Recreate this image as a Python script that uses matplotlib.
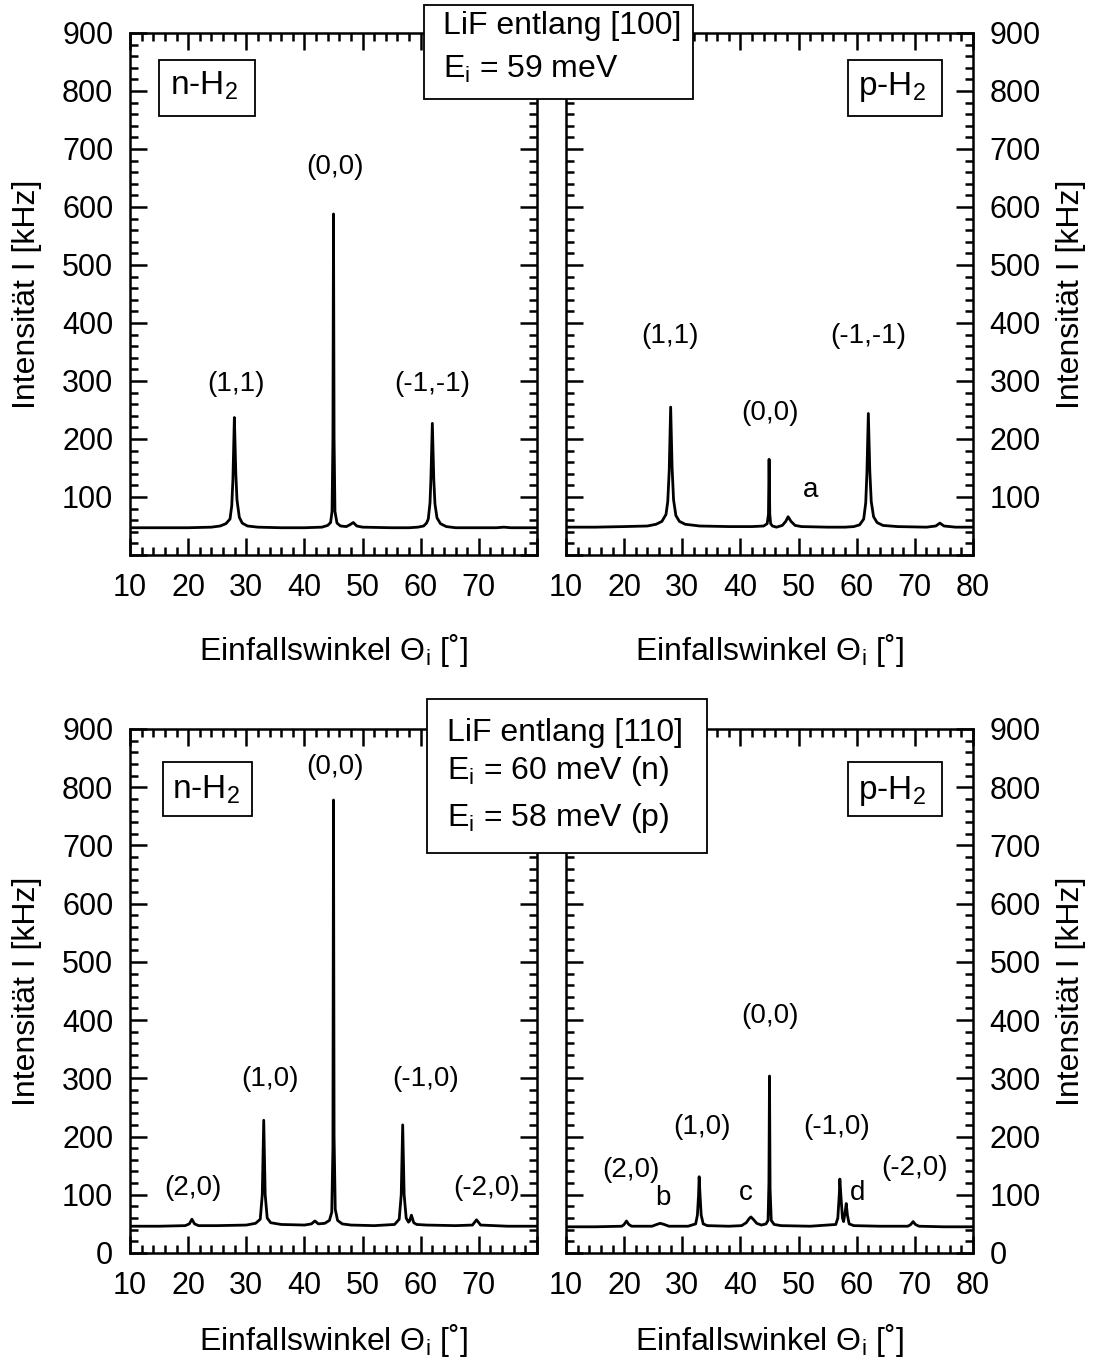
import matplotlib
matplotlib.use('Agg')
import matplotlib.pyplot as plt
from matplotlib.patches import Rectangle
from matplotlib.ticker import FixedLocator, MultipleLocator

plt.rcParams['font.family'] = ['Liberation Sans', 'DejaVu Sans']
plt.rcParams['mathtext.fontset'] = 'custom'
plt.rcParams['mathtext.rm'] = 'Liberation Sans'
plt.rcParams['mathtext.it'] = 'Liberation Sans:italic'
plt.rcParams['mathtext.bf'] = 'Liberation Sans:bold'

# ---------------- data ----------------
# top-left: n-H2, LiF along [100]
tl_x = [10, 15, 20, 24, 25.5, 26.5, 27.2, 27.5, 27.7, 27.95, 28.2, 28.4, 28.8, 29.3, 30.2,
        32, 36, 40, 43, 44.0, 44.5, 44.75, 44.9, 45.0, 45.1, 45.25, 45.6, 46.2, 47.2, 47.8,
        48.4, 49.0, 50, 55, 58, 59.5, 60.5, 61.0, 61.3, 61.6, 61.75, 62.0, 62.25, 62.45,
        62.8, 63.4, 64.4, 66, 70, 73, 74.3, 75.5, 80]
tl_y = [47, 47, 47, 48, 50, 54, 62, 85, 130, 237, 140, 95, 65, 55, 50,
        48, 47, 47, 48, 51, 56, 75, 200, 588, 200, 75, 55, 50, 49, 52,
        56, 50, 48, 47, 47, 48, 50, 55, 62, 90, 130, 227, 130, 88,
        64, 54, 49, 47, 47, 47, 48, 47, 47]

# top-right: p-H2, LiF along [100]
tr_x = [10, 15, 20, 24, 25.5, 26.5, 27.2, 27.5, 27.75, 28.0, 28.25, 28.5, 28.9, 29.5, 30.5,
        33, 38, 42, 44.0, 44.6, 44.82, 44.93, 45.05, 45.2, 45.5, 46.2, 47.2, 47.8, 48.2,
        48.7, 49.4, 50.5, 55, 58, 59.5, 60.5, 61.2, 61.55, 61.75, 62.0, 62.25, 62.5, 62.9,
        63.5, 64.5, 67, 72, 73.6, 74.3, 75.0, 77, 80]
tr_y = [48, 48, 49, 50, 53, 58, 70, 92, 145, 255, 150, 95, 68, 58, 53,
        50, 49, 49, 50, 54, 70, 165, 70, 54, 50, 48, 51, 58, 66,
        58, 51, 49, 48, 48, 49, 52, 62, 90, 140, 244, 145, 92, 66,
        56, 51, 49, 48, 50, 55, 50, 48, 48]

# bottom-left: n-H2, LiF along [110]
bl_x = [10, 15, 19.5, 20.2, 20.65, 21.1, 21.8, 25, 30, 31.6, 32.4, 32.75, 33.0, 33.25,
        33.6, 34.2, 36, 40, 41.2, 41.8, 42.4, 43.5, 44.3, 44.7, 44.9, 45.0, 45.1, 45.3,
        45.7, 46.5, 48, 52, 55.5, 56.3, 56.65, 56.9, 57.15, 57.5, 57.9, 58.1, 58.4, 58.8,
        59.3, 61, 66, 68.9, 69.6, 70.3, 75, 80]
bl_y = [46, 46, 47, 50, 58, 50, 47, 47, 48, 51, 58, 100, 228, 100,
        60, 52, 49, 48, 50, 55, 50, 51, 56, 70, 180, 778, 200, 75,
        56, 50, 48, 47, 49, 58, 100, 220, 100, 60, 53, 55, 65, 52,
        49, 48, 47, 48, 57, 48, 46, 46]

# bottom-right: p-H2, LiF along [110]
br_x = [10, 15, 19.6, 20.0, 20.4, 20.8, 21.3, 24.8, 25.6, 26.2, 26.9, 27.7, 31, 32.3,
        32.6, 32.8, 32.9, 33.05, 33.25, 33.6, 34.3, 38, 40.2, 41.0, 41.5, 41.8, 42.2, 42.8,
        43.6, 44.4, 44.75, 44.9, 45.0, 45.1, 45.3, 45.8, 47, 52, 56.4, 56.75, 57.0, 57.1,
        57.3, 57.55, 57.75, 58.0, 58.2, 58.4, 58.7, 59.5, 64, 68.8, 69.3, 69.7, 70.1, 70.7,
        75, 80]
br_y = [45, 45, 46, 49, 55, 49, 46, 46, 49, 51, 49, 46, 46, 50,
        65, 100, 131, 100, 65, 50, 47, 46, 47, 52, 59, 62, 58, 51,
        48, 50, 56, 120, 304, 110, 56, 49, 47, 46, 49, 60, 100, 127,
        95, 60, 54, 70, 85, 65, 50, 47, 46, 46, 49, 54, 49, 46,
        45, 45]

tl_labels = ['(1,1)', '(0,0)', '(-1,-1)']
tl_label_x = [28.2, 45.3, 62.0]
tl_label_y = [295, 669, 295]

tr_labels = ['(1,1)', '(0,0)', 'a', '(-1,-1)']
tr_label_x = [27.9, 45.1, 52.1, 61.9]
tr_label_y = [378, 245, 112, 378]

bl_labels = ['(2,0)', '(1,0)', '(0,0)', '(-1,0)', '(-2,0)']
bl_label_x = [20.8, 34.1, 45.3, 60.9, 71.3]
bl_label_y = [112, 299, 835, 299, 112]

br_labels = ['(2,0)', '(1,0)', '(0,0)', '(-1,0)', '(-2,0)', 'b', 'c', 'd']
br_label_x = [21.2, 33.4, 45.1, 56.6, 70.0, 26.7, 41.0, 60.1]
br_label_y = [143, 216, 407, 216, 146, 95, 103, 103]

x_major = [10, 20, 30, 40, 50, 60, 70, 80]
y_major = [0, 100, 200, 300, 400, 500, 600, 700, 800, 900]

xlabel_text = 'Einfallswinkel \u0398$_\\mathregular{i}$ [\u02da]'
ylabel_text = 'Intensit\u00e4t I [kHz]'

# ---------------- layout ----------------
W, H = 1094, 1362
fig = plt.figure(figsize=(W / 100, H / 100), dpi=100)


def rect(l, t, r, b):
    return [l / W, 1 - b / H, (r - l) / W, (b - t) / H]


panels = [
    dict(pos=(130, 33, 537, 555), x=tl_x, y=tl_y, labs=tl_labels, lx=tl_label_x, ly=tl_label_y,
         side='left', top=True),
    dict(pos=(566, 33, 973, 555), x=tr_x, y=tr_y, labs=tr_labels, lx=tr_label_x, ly=tr_label_y,
         side='right', top=True),
    dict(pos=(130, 729, 537, 1253), x=bl_x, y=bl_y, labs=bl_labels, lx=bl_label_x, ly=bl_label_y,
         side='left', top=False),
    dict(pos=(566, 729, 973, 1253), x=br_x, y=br_y, labs=br_labels, lx=br_label_x, ly=br_label_y,
         side='right', top=False),
]

for p in panels:
    l, t, r, b = p['pos']
    ax = fig.add_axes(rect(l, t, r, b))
    ax.plot(p['x'], p['y'], color='black', lw=2.0, solid_joinstyle='round')
    ax.set_xlim(10, 80)
    ax.set_ylim(0, 900)
    ax.xaxis.set_major_locator(FixedLocator(x_major))
    ax.xaxis.set_minor_locator(MultipleLocator(2))
    ax.yaxis.set_major_locator(FixedLocator(y_major))
    ax.yaxis.set_minor_locator(MultipleLocator(20))
    if p['side'] == 'left':
        ax.set_xticklabels([str(v) if v != 80 else '' for v in x_major])
    else:
        ax.set_xticklabels([str(v) for v in x_major])
    if p['top']:
        ax.set_yticklabels([str(v) if v != 0 else '' for v in y_major])
    else:
        ax.set_yticklabels([str(v) for v in y_major])
    ax.tick_params(which='both', direction='in', top=True, right=True, width=1.8)
    ax.tick_params(which='major', length=12)
    ax.tick_params(which='minor', length=6)
    ax.tick_params(axis='x', labelsize=22, pad=13)
    ax.tick_params(axis='y', labelsize=22, pad=12)
    for s in ax.spines.values():
        s.set_linewidth(1.8)
    if p['side'] == 'right':
        ax.tick_params(axis='y', labelleft=False, labelright=True)
        ax.yaxis.set_label_position('right')
        ax.set_ylabel(ylabel_text, fontsize=23)
        ax.yaxis.set_label_coords(1.205, 0.5)
    else:
        ax.set_ylabel(ylabel_text, fontsize=23)
        ax.yaxis.set_label_coords(-0.215, 0.5)
    ax.set_xlabel(xlabel_text, fontsize=23)
    ax.xaxis.set_label_coords(0.5, -0.145 if p['top'] else -0.13)
    for s, xx, yy in zip(p['labs'], p['lx'], p['ly']):
        ax.text(xx, yy, s, fontsize=20, ha='center', va='center')


def fig_box(l, t, r, b):
    fig.patches.append(Rectangle((l / W, 1 - b / H), (r - l) / W, (b - t) / H,
                                 transform=fig.transFigure, facecolor='white',
                                 edgecolor='black', lw=1.3, zorder=5))


def fig_text(x, y, s, size):
    fig.text(x / W, 1 - y / H, s, fontsize=size, ha='left', va='baseline', zorder=6)


# species boxes
fig_box(159, 60, 255, 116)
fig_text(170, 95, 'n-H$_\\mathregular{2}$', 24)
fig_box(848, 60, 942, 116)
fig_text(858, 95, 'p-H$_\\mathregular{2}$', 24)
fig_box(163, 762, 252, 816)
fig_text(172, 799, 'n-H$_\\mathregular{2}$', 24)
fig_box(848, 762, 942, 816)
fig_text(858, 799, 'p-H$_\\mathregular{2}$', 24)

# title boxes
fig_box(424, 5, 693, 99)
fig_text(443, 34, 'LiF entlang [100]', 23)
fig_text(443, 78, 'E$_\\mathregular{i}$ = 59 meV', 23)

fig_box(427, 699, 707, 853)
fig_text(447, 741, 'LiF entlang [110]', 23)
fig_text(447, 779, 'E$_\\mathregular{i}$ = 60 meV (n)', 23)
fig_text(447, 826, 'E$_\\mathregular{i}$ = 58 meV (p)', 23)

fig.savefig('out.png', dpi=100)
